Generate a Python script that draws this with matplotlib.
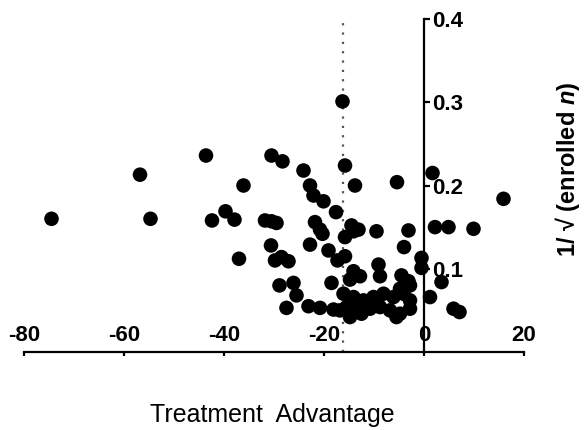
import numpy as np
import matplotlib
matplotlib.use('Agg')
import matplotlib.pyplot as plt

plt.rcParams['font.family'] = ['Liberation Sans', 'DejaVu Sans']
plt.rcParams['mathtext.fontset'] = 'custom'
plt.rcParams['mathtext.it'] = 'Liberation Sans:italic:bold'
plt.rcParams['mathtext.rm'] = 'Liberation Sans:bold'

# treatment advantage (x) and 1/sqrt(enrolled n) (y)
adv = [-74.5, -56.8, -54.7, -43.6, -42.4, -39.7, -37.9, -36.1, -37.0,
       -30.5, -28.3, -24.1, -31.8, -30.5, -29.5, -30.6, -29.8, -28.5, -27.1,
       -28.9, -26.1, -25.5, -27.5,
       -22.8, -22.1, -20.1, -17.6, -21.8, -20.8, -20.3, -22.8, -19.1, -17.3,
       -18.5, -23.1, -20.8, -18.1,
       -16.3, -15.8, -13.8, -14.5, -14.1, -15.8, -13.1, -15.8,
       -9.5, -3.1, -4.0, -5.4, -0.5, -0.5,
       -14.1, -12.8, -14.8, -9.1, -8.8, -4.5, -3.1,
       -16.1, -14.1, -12.1, -10.1, -8.1, -6.1, -4.1, -2.8,
       -15.5, -13.5, -10.8, -8.8, -6.8, -4.8, -2.8,
       -14.8, -5.5, -16.8, -12.5, -9.5, -4.8, -2.8,
       1.7, 2.2, 4.9, 9.9, 15.9, 3.5, 1.2, 5.9, 7.1]
inv_sqrt_n = [0.160, 0.213, 0.160, 0.236, 0.158, 0.169, 0.159, 0.200, 0.112,
              0.236, 0.229, 0.218, 0.158, 0.157, 0.155, 0.128, 0.110, 0.114, 0.109,
              0.080, 0.083, 0.068, 0.053,
              0.200, 0.188, 0.181, 0.168, 0.156, 0.147, 0.142, 0.129, 0.122, 0.110,
              0.083, 0.055, 0.053, 0.051,
              0.301, 0.224, 0.200, 0.152, 0.145, 0.138, 0.147, 0.115,
              0.145, 0.146, 0.126, 0.204, 0.113, 0.101,
              0.097, 0.091, 0.087, 0.105, 0.091, 0.092, 0.085,
              0.070, 0.066, 0.062, 0.066, 0.070, 0.066, 0.070, 0.062,
              0.054, 0.050, 0.052, 0.054, 0.050, 0.046, 0.052,
              0.042, 0.042, 0.050, 0.046, 0.058, 0.076, 0.080,
              0.215, 0.150, 0.150, 0.148, 0.184, 0.084, 0.066, 0.052, 0.048]
ref_line = -16.3
xticks = [-80, -60, -40, -20, 0, 20]
yticks = [0.1, 0.2, 0.3, 0.4]

fig = plt.figure(figsize=(5.84, 4.30), dpi=100)
ax = fig.add_axes([24 / 584, 78 / 430, 500 / 584, 333 / 430])

ax.plot([ref_line, ref_line], [0, 0.4], color='#555555', lw=1.6,
        linestyle=(0, (1, 3.2)), zorder=1)
ax.scatter(adv, inv_sqrt_n, s=110, color='black', edgecolors='none',
           zorder=3, clip_on=False)

ax.set_xlim(-80, 20)
ax.set_ylim(0, 0.4)

ax.spines['top'].set_visible(False)
ax.spines['left'].set_visible(False)
ax.spines['right'].set_position(('data', 0))
ax.spines['bottom'].set_position(('data', 0))
for s in ['right', 'bottom']:
    ax.spines[s].set_linewidth(1.6)

ax.yaxis.tick_right()
ax.set_xticks(xticks)
ax.set_yticks(yticks)
ax.set_xticklabels([str(t) for t in xticks])
ax.set_yticklabels(['0.1', '0.2', '0.3', '0.4'])
ax.tick_params(axis='x', direction='out', length=3, width=1.6, pad=-22.5,
               labelsize=16)
ax.tick_params(axis='y', direction='out', length=4, width=1.6, pad=2,
               labelsize=16)
for lab in ax.get_xticklabels() + ax.get_yticklabels():
    lab.set_fontweight('bold')

ax.set_xlabel('Treatment  Advantage', fontsize=18, va='top')
ax.xaxis.set_label_coords(0.496, -0.153)
ax.yaxis.set_label_position('right')
ax.set_ylabel('1/ √ (enrolled $\\mathit{n}$)', fontsize=17, fontweight='bold',
              rotation=90, va='center', ha='center')
ax.yaxis.set_label_coords(1.088, 0.547)

fig.savefig('out.png', dpi=100)
